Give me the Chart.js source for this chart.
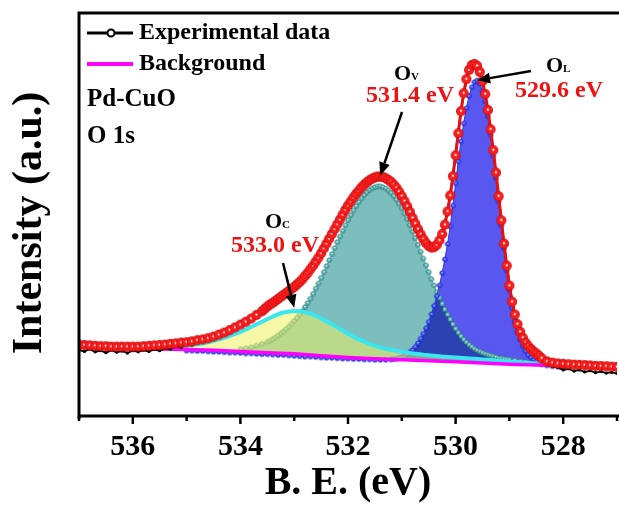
<!DOCTYPE html>
<html>
<head>
<meta charset="utf-8">
<title>Pd-CuO O 1s</title>
<script src="https://cdn.jsdelivr.net/npm/chart.js@4.4.1/dist/chart.umd.min.js"></script>
<style>
  html, body { margin: 0; padding: 0; background: #fff; }
  #wrap { width: 619px; height: 508px; overflow: hidden; position: relative; }
  canvas { position: absolute; left: 0; top: 0; }
</style>
</head>
<body>
<div id="wrap"><canvas id="xps" width="630" height="508"></canvas></div>
<script>
/* O 1s spectrum of Pd-CuO: raw counts, fitted envelope, Shirley background
   and the three deconvoluted components (O_L, O_V, O_C). */

// ── experimental data (binding energy, eV / intensity, a.u.) ──
const expEV = [
  537.0, 536.9, 536.8, 536.7, 536.6, 536.5, 536.4, 536.3, 536.2, 536.1,
  536.0, 535.9, 535.8, 535.7, 535.6, 535.5, 535.4, 535.3, 535.2, 535.1,
  535.0, 534.9, 534.8, 534.7, 534.6, 534.5, 534.4, 534.3, 534.2, 534.1,
  534.0, 533.9, 533.8, 533.7, 533.6, 533.5, 533.4, 533.3, 533.2, 533.1,
  533.0, 532.9, 532.8, 532.7, 532.6, 532.5, 532.4, 532.3, 532.2, 532.1,
  532.0, 531.9, 531.8, 531.7, 531.6, 531.5, 531.4, 531.3, 531.2, 531.1,
  531.0, 530.9, 530.8, 530.7, 530.6, 530.5, 530.4, 530.3, 530.2, 530.1,
  530.0, 529.9, 529.8, 529.7, 529.6, 529.5, 529.4, 529.3, 529.2, 529.1,
  529.0, 528.9, 528.8, 528.7, 528.6, 528.5, 528.4, 528.3, 528.2, 528.1,
  528.0, 527.9, 527.8, 527.7, 527.6, 527.5, 527.4, 527.3, 527.2, 527.1,
  527.0
];
const expCounts = [
  16.0, 15.6, 16.2, 15.5, 15.8, 15.3, 15.9, 15.4, 15.7, 15.2,
  15.8, 15.5, 15.9, 15.6, 16.1, 15.8, 16.4, 16.2, 16.9, 16.6,
  17.5, 17.2, 18.3, 18.0, 19.4, 19.1, 20.4, 20.0, 21.5, 21.2,
  22.9, 22.6, 24.3, 24.4, 26.0, 26.8, 28.1, 28.4, 30.0, 30.5,
  32.0, 32.6, 34.8, 36.0, 38.3, 40.0, 42.9, 44.8, 47.6, 49.5,
  52.4, 53.8, 56.1, 57.0, 58.8, 59.0, 59.9, 58.7, 58.3, 56.2,
  54.6, 51.5, 49.2, 45.8, 43.9, 41.6, 41.9, 43.0, 47.5, 54.2,
  64.8, 75.9, 83.2, 87.6, 87.1, 82.7, 76.1, 65.5, 54.7, 42.2,
  32.4, 24.5, 20.8, 17.5, 16.0, 14.5, 13.3, 12.4, 11.9, 11.6,
  11.0, 11.3, 10.7, 11.0, 10.5, 10.8, 10.3, 10.6, 10.2, 10.4,
  10.1
];

// ── fitted envelope ──
const fitEV = [
  537.0, 536.9, 536.8, 536.7, 536.6, 536.5, 536.4, 536.3, 536.2, 536.1,
  536.0, 535.9, 535.8, 535.7, 535.6, 535.5, 535.4, 535.3, 535.2, 535.1,
  535.0, 534.9, 534.8, 534.7, 534.6, 534.5, 534.4, 534.3, 534.2, 534.1,
  534.0, 533.9, 533.8, 533.7, 533.6,
  533.55, 533.50, 533.45, 533.40, 533.35, 533.30, 533.25, 533.20, 533.15, 533.10, 533.05, 533.00,
  532.95, 532.90, 532.85, 532.80, 532.75, 532.70, 532.65, 532.60, 532.55, 532.50,
  532.45, 532.40, 532.35, 532.30, 532.25, 532.20, 532.15, 532.10, 532.05, 532.00,
  531.95, 531.90, 531.85, 531.80, 531.75, 531.70, 531.65, 531.60, 531.55, 531.50,
  531.45, 531.40, 531.35, 531.30, 531.25, 531.20, 531.15, 531.10, 531.05, 531.00,
  530.95, 530.90, 530.85, 530.80, 530.75, 530.70, 530.65, 530.60, 530.55, 530.50,
  530.45, 530.40, 530.35, 530.30, 530.25, 530.20, 530.15, 530.10, 530.05, 530.00,
  529.95, 529.90, 529.85, 529.80, 529.75, 529.70, 529.65, 529.60, 529.55, 529.50,
  529.45, 529.40, 529.35, 529.30, 529.25, 529.20, 529.15, 529.10, 529.05, 529.00,
  528.95, 528.90, 528.85, 528.80, 528.75, 528.70, 528.65, 528.60, 528.55, 528.50,
  528.45, 528.40,
  528.3, 528.2, 528.1, 528.0, 527.9, 527.8, 527.7, 527.6, 527.5, 527.4,
  527.3, 527.2, 527.1, 527.0
];
const fitCounts = [
  17.3, 17.2, 17.1, 17.0, 16.9, 16.9, 16.8, 16.8, 16.8, 16.8,
  16.8, 16.8, 16.9, 17.0, 17.1, 17.2, 17.3, 17.5, 17.6, 17.8,
  17.9, 18.1, 18.4, 18.6, 18.9, 19.3, 19.8, 20.3, 20.9, 21.6,
  22.3, 23.0, 23.8, 24.7, 25.6,
  26.2, 26.8, 27.3, 27.7, 28.2, 28.7, 29.2, 29.7, 30.2, 30.7, 31.2, 31.7,
  32.3, 32.9, 33.6, 34.4, 35.2, 36.1, 37.0, 38.0, 39.0, 40.1,
  41.3, 42.5, 43.7, 44.9, 46.1, 47.3, 48.5, 49.7, 50.9, 52.0,
  53.0, 54.0, 54.9, 55.7, 56.5, 57.2, 57.8, 58.3, 58.7, 59.0,
  59.2, 59.2, 59.1, 58.8, 58.4, 57.9, 57.2, 56.4, 55.4, 54.3,
  53.1, 51.8, 50.4, 48.9, 47.5, 46.1, 44.8, 43.6, 42.6, 41.9,
  41.5, 41.6, 42.2, 43.3, 44.9, 47.2, 50.5, 54.5, 59.3, 64.5,
  70.0, 75.5, 80.0, 83.5, 85.8, 87.0, 87.3, 86.8, 85.3, 83.0,
  79.8, 75.8, 71.0, 65.8, 60.2, 54.3, 48.3, 42.5, 37.0, 32.0,
  28.0, 24.8, 22.4, 20.5, 19.0, 17.8, 16.9, 16.2, 15.6, 15.1,
  14.5, 13.9,
  13.1, 12.8, 12.6, 12.5, 12.4, 12.3, 12.25, 12.2, 12.1, 12.0,
  11.95, 11.9, 11.8, 11.75
];

// ── Shirley background ──
const bgEV = [536.0, 535.5, 535.0, 534.5, 534.0, 533.5, 533.0, 532.5, 532.0,
              531.5, 531.0, 530.5, 530.0, 529.5, 529.0, 528.5, 528.0];
const bgCounts = [16.3, 16.2, 16.1, 15.9, 15.6, 15.3, 15.0, 14.5, 14.1,
                  13.8, 13.5, 13.3, 13.0, 12.7, 12.4, 12.2, 12.0];

// ── O_C component (533.0 eV) ──
const ocEV = [
  535.6, 535.4, 535.2, 535.0, 534.8, 534.6, 534.4, 534.2, 534.0, 533.8,
  533.6, 533.4, 533.2, 533.0, 532.8, 532.6, 532.4, 532.2, 532.0, 531.8,
  531.6, 531.4, 531.2, 531.0, 530.8, 530.6, 530.4, 530.2, 530.0, 529.8,
  529.6, 529.4, 529.2, 529.0, 528.8, 528.6, 528.4, 528.2, 528.0
];
const ocCounts = [
  16.5, 16.6, 16.8, 17.0, 17.4, 17.9, 18.6, 19.5, 20.5, 21.7,
  23.0, 24.3, 25.3, 25.7, 25.4, 24.5, 23.1, 21.6, 20.0, 18.6,
  17.5, 16.6, 16.0, 15.5, 15.1, 14.8, 14.5, 14.3, 14.1, 13.9,
  13.7, 13.5, 13.3, 13.1, 12.9, 12.7, 12.5, 12.3, 12.1
];

// ── O_V component (531.4 eV) ──
const ovEV = [
  534.0, 533.9, 533.8, 533.7, 533.6, 533.5,
  533.45, 533.40, 533.35, 533.30, 533.25, 533.20, 533.15, 533.10, 533.05, 533.00,
  532.95, 532.90, 532.85, 532.80, 532.75, 532.70, 532.65, 532.60, 532.55, 532.50,
  532.45, 532.40, 532.35, 532.30, 532.25, 532.20, 532.15, 532.10, 532.05, 532.00,
  531.95, 531.90, 531.85, 531.80, 531.75, 531.70, 531.65, 531.60, 531.55, 531.50,
  531.45, 531.40, 531.35, 531.30, 531.25, 531.20, 531.15, 531.10, 531.05, 531.00,
  530.95, 530.90, 530.85, 530.80, 530.75, 530.70, 530.65, 530.60, 530.55, 530.50,
  530.45, 530.40, 530.35, 530.30, 530.25, 530.20, 530.15, 530.10, 530.05, 530.00,
  529.95, 529.90, 529.85, 529.80, 529.75, 529.70, 529.65, 529.60, 529.55, 529.50,
  529.45, 529.40, 529.35, 529.30, 529.25, 529.20, 529.15, 529.10, 529.05, 529.00,
  528.9, 528.8, 528.7, 528.6, 528.5, 528.4, 528.3, 528.2, 528.1, 528.0
];
const ovCounts = [
  16.2, 16.4, 16.7, 17.1, 17.5, 18.0,
  18.3, 18.7, 19.1, 19.6, 20.1, 20.6, 21.2, 21.8, 22.5, 23.2,
  24.0, 24.8, 25.7, 26.7, 27.7, 28.8, 30.0, 31.3, 32.6, 34.0,
  35.4, 36.9, 38.4, 39.9, 41.4, 42.9, 44.3, 45.7, 47.1, 48.4,
  49.6, 50.8, 51.9, 52.9, 53.8, 54.6, 55.3, 55.9, 56.3, 56.6,
  56.8, 56.8, 56.6, 56.3, 55.8, 55.2, 54.4, 53.5, 52.5, 51.3,
  50.0, 48.6, 47.1, 45.5, 43.9, 42.2, 40.5, 38.8, 37.1, 35.4,
  33.7, 32.1, 30.5, 29.0, 27.5, 26.1, 24.8, 23.6, 22.4, 21.3,
  20.3, 19.4, 18.6, 17.9, 17.3, 16.8, 16.3, 15.9, 15.6, 15.3,
  15.0, 14.8, 14.6, 14.4, 14.2, 14.0, 13.9, 13.8, 13.7, 13.6,
  13.4, 13.2, 13.0, 12.8, 12.6, 12.5, 12.4, 12.3, 12.2, 12.1
];

// ── O_L component (529.6 eV) ──
const olEV = [
  535.0, 534.9, 534.8, 534.7, 534.6, 534.5, 534.4, 534.3, 534.2, 534.1,
  534.0, 533.9, 533.8, 533.7, 533.6, 533.5, 533.4, 533.3, 533.2, 533.1,
  533.0, 532.9, 532.8, 532.7, 532.6, 532.5, 532.4, 532.3, 532.2, 532.1,
  532.0, 531.9, 531.8, 531.7, 531.6, 531.5, 531.4, 531.3, 531.2,
  531.15, 531.10, 531.05, 531.00, 530.95, 530.90, 530.85, 530.80, 530.75, 530.70,
  530.65, 530.60, 530.55, 530.50, 530.45, 530.40, 530.35, 530.30, 530.25, 530.20,
  530.15, 530.10, 530.05, 530.00, 529.95, 529.90, 529.85, 529.80, 529.75, 529.70,
  529.65, 529.60, 529.55, 529.50, 529.45, 529.40, 529.35, 529.30, 529.25, 529.20,
  529.15, 529.10, 529.05, 529.00, 528.95, 528.90, 528.85, 528.80, 528.75, 528.70,
  528.65, 528.60, 528.55, 528.50,
  528.4, 528.3, 528.2, 528.1, 528.0
];
const olCounts = [
  15.8, 15.8, 15.7, 15.7, 15.6, 15.5, 15.5, 15.4, 15.3, 15.3,
  15.2, 15.1, 15.1, 15.0, 14.9, 14.9, 14.8, 14.7, 14.7, 14.6,
  14.5, 14.4, 14.3, 14.3, 14.2, 14.1, 14.0, 14.0, 13.9, 13.8,
  13.8, 13.7, 13.7, 13.6, 13.6, 13.5, 13.5, 13.5, 13.6,
  13.7, 13.8, 14.0, 14.2, 14.5, 14.9, 15.4, 16.0, 16.8, 17.7,
  18.8, 20.0, 21.4, 23.0, 24.9, 27.0, 29.4, 32.1, 35.2, 38.6,
  42.4, 46.8, 52.0, 57.5, 63.0, 68.0, 72.5, 76.3, 79.3, 81.5,
  82.8, 83.2, 82.4, 80.6, 78.0, 74.3, 69.6, 64.4, 58.8, 53.0,
  47.1, 41.3, 35.8, 30.9, 26.6, 23.2, 20.5, 18.5, 16.9, 15.7,
  14.8, 14.1, 13.5, 13.1,
  12.4, 12.1, 11.9, 11.8, 11.7
];

// ── peak annotations ──
const peakSubs    = ['V', 'L', 'C'];
const peakLabels  = ['531.4 eV', '529.6 eV', '533.0 eV'];
const peakCenters = [531.4, 529.6, 533.0];
const peakTips    = [59.5, 83.2, 26.5];

const SERIF = "'Liberation Serif', 'Times New Roman', serif";
const IDX_OL_FILL = 7, IDX_OV_FILL = 8;

const pts = (xs, ys) => xs.map((v, i) => ({ x: v, y: ys[i] }));

// small shaded balls used as point markers
function ball(r, rim, body, glint, spot) {
  const c = document.createElement('canvas');
  const s = Math.ceil(r * 2) + 2;
  c.width = c.height = s;
  const g = c.getContext('2d');
  const m = s / 2;
  const grad = g.createRadialGradient(m, m - r * 0.1, 0, m, m, r);
  grad.addColorStop(0, glint);
  grad.addColorStop(spot, glint);
  grad.addColorStop(spot + 0.25, body);
  grad.addColorStop(0.82, body);
  grad.addColorStop(1, rim);
  g.fillStyle = grad;
  g.beginPath(); g.arc(m, m, r, 0, Math.PI * 2); g.fill();
  return c;
}
const redBall  = ball(5, '#b00000', '#f81c1c', '#fff2f2', 0.1);
const blueBall = ball(2.6, '#1414a8', '#3040f0', '#b8c0ff', 0.15);
const tealBall = ball(2.6, '#1f6666', '#4fa6a6', '#eaffff', 0.15);

function arrow(ctx, x0, y0, x1, y1) {
  const ang = Math.atan2(y1 - y0, x1 - x0);
  const head = 13, half = 5.5;
  const bx = x1 - head * Math.cos(ang), by = y1 - head * Math.sin(ang);
  ctx.lineWidth = 2.5;
  ctx.beginPath(); ctx.moveTo(x0, y0); ctx.lineTo(bx, by); ctx.stroke();
  ctx.beginPath();
  ctx.moveTo(x1, y1);
  ctx.lineTo(bx + half * Math.sin(ang), by - half * Math.cos(ang));
  ctx.lineTo(bx - half * Math.sin(ang), by + half * Math.cos(ang));
  ctx.closePath(); ctx.fill();
}

const decor = {
  id: 'decor',
  afterDatasetDraw(chart, args) {
    // the blue O_L area is blended multiplicatively over the teal one
    if (args.index === IDX_OV_FILL) chart.ctx.globalCompositeOperation = 'multiply';
    if (args.index === IDX_OL_FILL) chart.ctx.globalCompositeOperation = 'source-over';
  },
  afterDraw(chart) {
    const { ctx, chartArea: a, scales: { x, y } } = chart;
    ctx.save();
    ctx.strokeStyle = '#000';
    ctx.fillStyle = '#000';

    // frame
    ctx.lineWidth = 3;
    ctx.beginPath();
    ctx.moveTo(chart.width, a.top); ctx.lineTo(a.left, a.top); ctx.lineTo(a.left, a.bottom + 3);
    ctx.moveTo(a.left - 1.5, a.bottom); ctx.lineTo(chart.width, a.bottom);
    ctx.stroke();

    // outward ticks, long on labelled values
    ctx.lineWidth = 2.5;
    x.ticks.forEach(t => {
      const px = x.getPixelForValue(t.value);
      const len = t.value % 2 === 0 ? 8 : 5;
      ctx.beginPath(); ctx.moveTo(px, a.bottom); ctx.lineTo(px, a.bottom + len); ctx.stroke();
    });

    // y title
    ctx.save();
    ctx.translate(30, 223);
    ctx.rotate(-Math.PI / 2);
    ctx.font = 'bold 42px ' + SERIF;
    ctx.textAlign = 'center';
    ctx.textBaseline = 'middle';
    ctx.fillText('Intensity (a.u.)', 0, 0);
    ctx.restore();

    // legend
    ctx.lineWidth = 3;
    ctx.beginPath(); ctx.moveTo(87, 33); ctx.lineTo(133, 33); ctx.stroke();
    ctx.beginPath(); ctx.arc(111, 33, 3.5, 0, Math.PI * 2);
    ctx.fillStyle = '#fff'; ctx.fill(); ctx.lineWidth = 2; ctx.stroke();
    ctx.strokeStyle = '#ff00ff'; ctx.lineWidth = 4;
    ctx.beginPath(); ctx.moveTo(87, 64); ctx.lineTo(133, 64); ctx.stroke();
    ctx.fillStyle = '#000';
    ctx.textBaseline = 'middle';
    ctx.textAlign = 'left';
    ctx.font = 'bold 24px ' + SERIF;
    ctx.fillText('Experimental data', 139, 33);
    ctx.fillText('Background', 139, 64);
    ctx.font = 'bold 25px ' + SERIF;
    ctx.fillText('Pd-CuO', 87, 100);
    ctx.fillText('O 1s', 87, 137);

    // peak labels and arrows
    const place = [
      { ox: 394, oy: 80, vx: 366, vy: 102, tx: 402, ty: 112 },
      { ox: 546, oy: 72, vx: 515, vy: 97,  tx: 531, ty: 71 },
      { ox: 265, oy: 228, vx: 231, vy: 252, tx: 283, ty: 263 }
    ];
    ctx.textBaseline = 'alphabetic';
    peakCenters.forEach((c, i) => {
      const p = place[i];
      ctx.fillStyle = '#000';
      ctx.font = 'bold 22px ' + SERIF;
      ctx.fillText('O', p.ox, p.oy);
      const ow = ctx.measureText('O').width;
      ctx.font = 'bold 11px ' + SERIF;
      ctx.fillText(peakSubs[i], p.ox + ow, p.oy);
      ctx.fillStyle = '#ee1111';
      ctx.font = 'bold 24px ' + SERIF;
      ctx.fillText(peakLabels[i], p.vx, p.vy);
      ctx.fillStyle = '#000';
      ctx.strokeStyle = '#000';
      arrow(ctx, p.tx, p.ty, x.getPixelForValue(c), y.getPixelForValue(peakTips[i]));
    });
    ctx.restore();
  }
};

new Chart(document.getElementById('xps'), {
  type: 'line',
  data: {
    datasets: [
      { // 0 fitted envelope
        data: pts(fitEV, fitCounts), borderColor: '#e81010', borderWidth: 3,
        pointStyle: redBall, pointRadius: 5, pointHoverRadius: 5, fill: false
      },
      { // 1 experimental
        data: pts(expEV, expCounts), borderColor: '#111', borderWidth: 2,
        pointRadius: 1.6, pointBackgroundColor: '#000', pointBorderWidth: 0, fill: false
      },
      { // 2 background
        data: pts(bgEV, bgCounts), borderColor: '#ff00ff', borderWidth: 3.5,
        pointRadius: 0, fill: false
      },
      { // 3 O_C curve
        data: pts(ocEV, ocCounts), borderColor: '#3ae6ef', borderWidth: 4,
        cubicInterpolationMode: 'monotone', pointRadius: 0, fill: false
      },
      { // 4 O_C area
        data: pts(ocEV, ocCounts), borderWidth: 0, cubicInterpolationMode: 'monotone',
        pointRadius: 0, fill: 2, backgroundColor: 'rgba(240,240,96,0.55)'
      },
      { // 5 O_L curve
        data: pts(olEV, olCounts), borderColor: '#2a36e8', borderWidth: 1,
        pointStyle: blueBall, pointRadius: 2.6, fill: false
      },
      { // 6 O_V curve
        data: pts(ovEV, ovCounts), borderColor: 'rgba(50,140,140,0.6)', borderWidth: 1,
        pointStyle: tealBall, pointRadius: 2.6, fill: false
      },
      { // 7 O_L area
        data: pts(olEV, olCounts), borderWidth: 0, pointRadius: 0,
        fill: 2, backgroundColor: 'rgba(70,70,238,0.9)'
      },
      { // 8 O_V area
        data: pts(ovEV, ovCounts), borderWidth: 0, pointRadius: 0,
        fill: 2, backgroundColor: 'rgba(110,182,182,0.9)'
      }
    ]
  },
  options: {
    responsive: false,
    animation: false,
    devicePixelRatio: 1,
    events: [],
    layout: { padding: { left: 79, top: 13, right: 3.5, bottom: 0 } },
    plugins: { legend: { display: false }, tooltip: { enabled: false } },
    scales: {
      x: {
        type: 'linear', reverse: true, min: 527, max: 537,
        grid: { display: false, drawTicks: false },
        border: { display: false },
        ticks: {
          stepSize: 1, autoSkip: false, maxRotation: 0, padding: 13, color: '#000',
          font: { family: SERIF, size: 30, weight: 'bold' },
          callback: v => (v % 2 === 0 ? String(v) : '')
        },
        title: {
          display: true, text: 'B. E. (eV)', color: '#000',
          font: { family: SERIF, size: 40, weight: 'bold' },
          padding: { top: 0, bottom: 0.5 }
        },
        afterFit: s => { s.height = 92; }
      },
      y: { display: false, min: -0.5, max: 100 }
    }
  },
  plugins: [decor]
});
</script>
</body>
</html>
